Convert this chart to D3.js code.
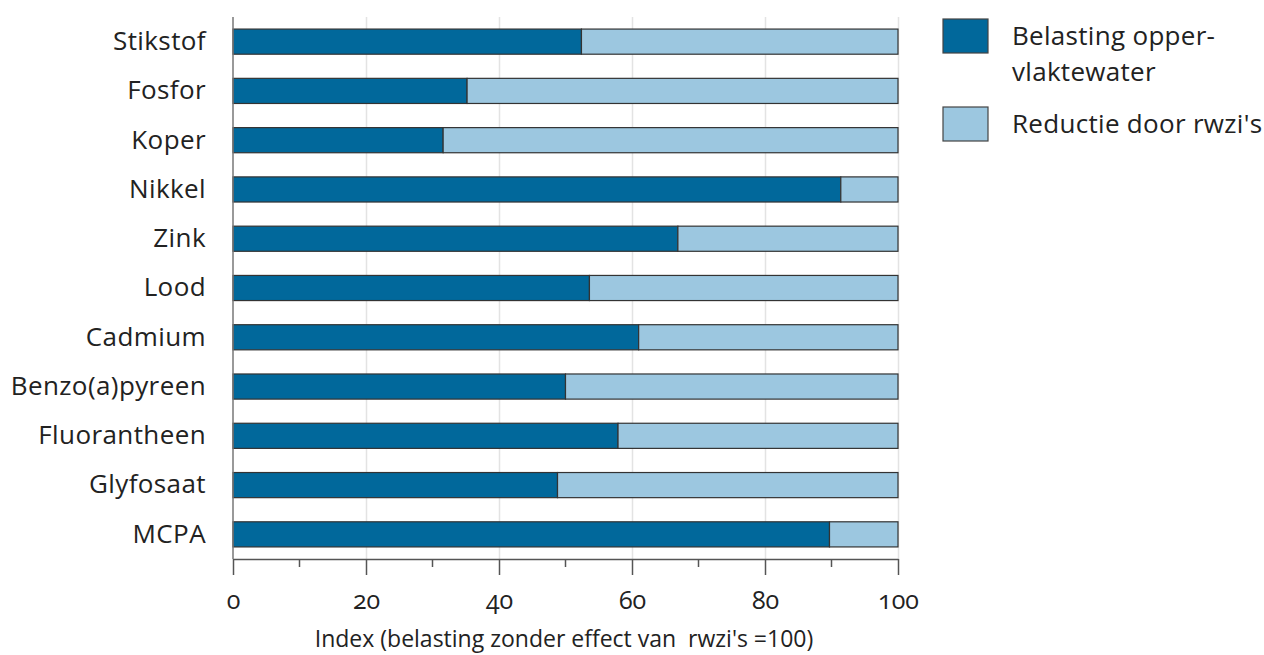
<!DOCTYPE html>
<html>
<head>
<meta charset="utf-8">
<script src="https://cdn.jsdelivr.net/npm/d3@7"></script>
<style>
  html, body { margin: 0; padding: 0; background: #fff; }
  svg { display: block; font-family: "Open Sans", sans-serif; }
  .tick text { font-variant-numeric: oldstyle-nums; font-feature-settings: "onum" 1; }
</style>
</head>
<body>
<svg id="chart" width="1264" height="655"></svg>
<script>
// Stoffen (van boven naar beneden)
const categories = ["Stikstof", "Fosfor", "Koper", "Nikkel", "Zink", "Lood", "Cadmium",
  "Benzo(a)pyreen", "Fluorantheen", "Glyfosaat", "MCPA"];
// Belasting oppervlaktewater (index)
const belasting = [52.4, 35.2, 31.6, 91.4, 66.9, 53.6, 61.0, 50.0, 57.9, 48.8, 89.7];
// Reductie door rwzi's (aanvulling tot 100)
const reductie = [47.6, 64.8, 68.4, 8.6, 33.1, 46.4, 39.0, 50.0, 42.1, 51.2, 10.3];
const seriesNames = ["Belasting opper-\nvlaktewater", "Reductie door rwzi's"];
const seriesColors = ["#01689b", "#9cc7e0"];
const xTicks = [0, 20, 40, 60, 80, 100];
const xMinorTicks = [10, 30, 50, 70, 90];
const xTitle = "Index (belasting zonder effect van  rwzi's =100)";

const svg = d3.select("#chart");
const plotLeft = 233, plotRight = 898, plotTop = 17, plotBottom = 559;
const fontSize = 26;

const x = d3.scaleLinear().domain([0, 100]).range([plotLeft, plotRight]);
const y = d3.scaleBand().domain(categories).range([plotTop, plotBottom])
  .paddingInner(0.49).paddingOuter(0.245);

// rasterlijnen
svg.append("g").selectAll("line").data(xTicks.slice(1)).join("line")
  .attr("x1", d => x(d) + 0.5).attr("x2", d => x(d) + 0.5)
  .attr("y1", plotTop).attr("y2", plotBottom)
  .attr("stroke", "#e3e3e3").attr("stroke-width", 1.5);

// gestapelde balken
const rows = categories.map((c, i) => ({ c, parts: [
  { s: 0, x0: 0, x1: belasting[i] },
  { s: 1, x0: belasting[i], x1: belasting[i] + reductie[i] }
]}));
const g = svg.append("g");
g.selectAll("g").data(rows).join("g")
  .selectAll("rect").data(d => d.parts.map(p => ({ ...p, c: d.c }))).join("rect")
  .attr("x", d => x(d.x0))
  .attr("y", d => y(d.c))
  .attr("width", d => x(d.x1) - x(d.x0))
  .attr("height", y.bandwidth())
  .attr("fill", d => seriesColors[d.s])
  .attr("stroke", "#333")
  .attr("stroke-width", 1.2);

// y-as
const yAxis = svg.append("g").attr("transform", `translate(${plotLeft},0)`)
  .call(d3.axisLeft(y).tickSize(0).tickPadding(27));
yAxis.select(".domain").attr("stroke", "#777").attr("stroke-width", 1.5)
  .attr("d", `M0,${plotTop}V${plotBottom}`);
yAxis.selectAll("text").attr("font-size", fontSize).attr("fill", "#222")
  .attr("font-family", "'Open Sans', sans-serif")
  .attr("letter-spacing", 0.4);

// x-as
const xAxis = svg.append("g").attr("transform", `translate(0,${plotBottom})`)
  .call(d3.axisBottom(x).tickValues(xTicks).tickSize(16).tickPadding(16).tickSizeOuter(0));
xAxis.select(".domain").attr("stroke", "#555").attr("stroke-width", 1.5);
xAxis.selectAll(".tick line").attr("stroke", "#555").attr("stroke-width", 1.5);
xAxis.selectAll("text").attr("font-size", 25).attr("fill", "#222")
  .attr("font-family", "'Open Sans', sans-serif");
svg.append("g").attr("transform", `translate(0,${plotBottom})`)
  .selectAll("line").data(xMinorTicks).join("line")
  .attr("x1", d => x(d)).attr("x2", d => x(d))
  .attr("y1", 0).attr("y2", 8)
  .attr("stroke", "#555").attr("stroke-width", 1.5);

svg.append("text")
  .attr("x", 564).attr("y", 647)
  .attr("text-anchor", "middle")
  .attr("font-size", 23).attr("fill", "#222")
  .style("white-space", "pre")
  .text(xTitle);

// legenda
const legend = svg.append("g");
const legY = [19, 107];
seriesNames.forEach((name, i) => {
  legend.append("rect")
    .attr("x", 943).attr("y", legY[i]).attr("width", 45).attr("height", 34)
    .attr("fill", seriesColors[i]).attr("stroke", "#444").attr("stroke-width", 1.2);
  const t = legend.append("text")
    .attr("x", 1012).attr("y", legY[i] + 26)
    .attr("font-size", fontSize).attr("fill", "#222")
    .attr("letter-spacing", 0.3);
  name.split("\n").forEach((line, j) => {
    t.append("tspan").attr("x", 1012).attr("dy", j === 0 ? 0 : 36).text(line);
  });
});
</script>
</body>
</html>
